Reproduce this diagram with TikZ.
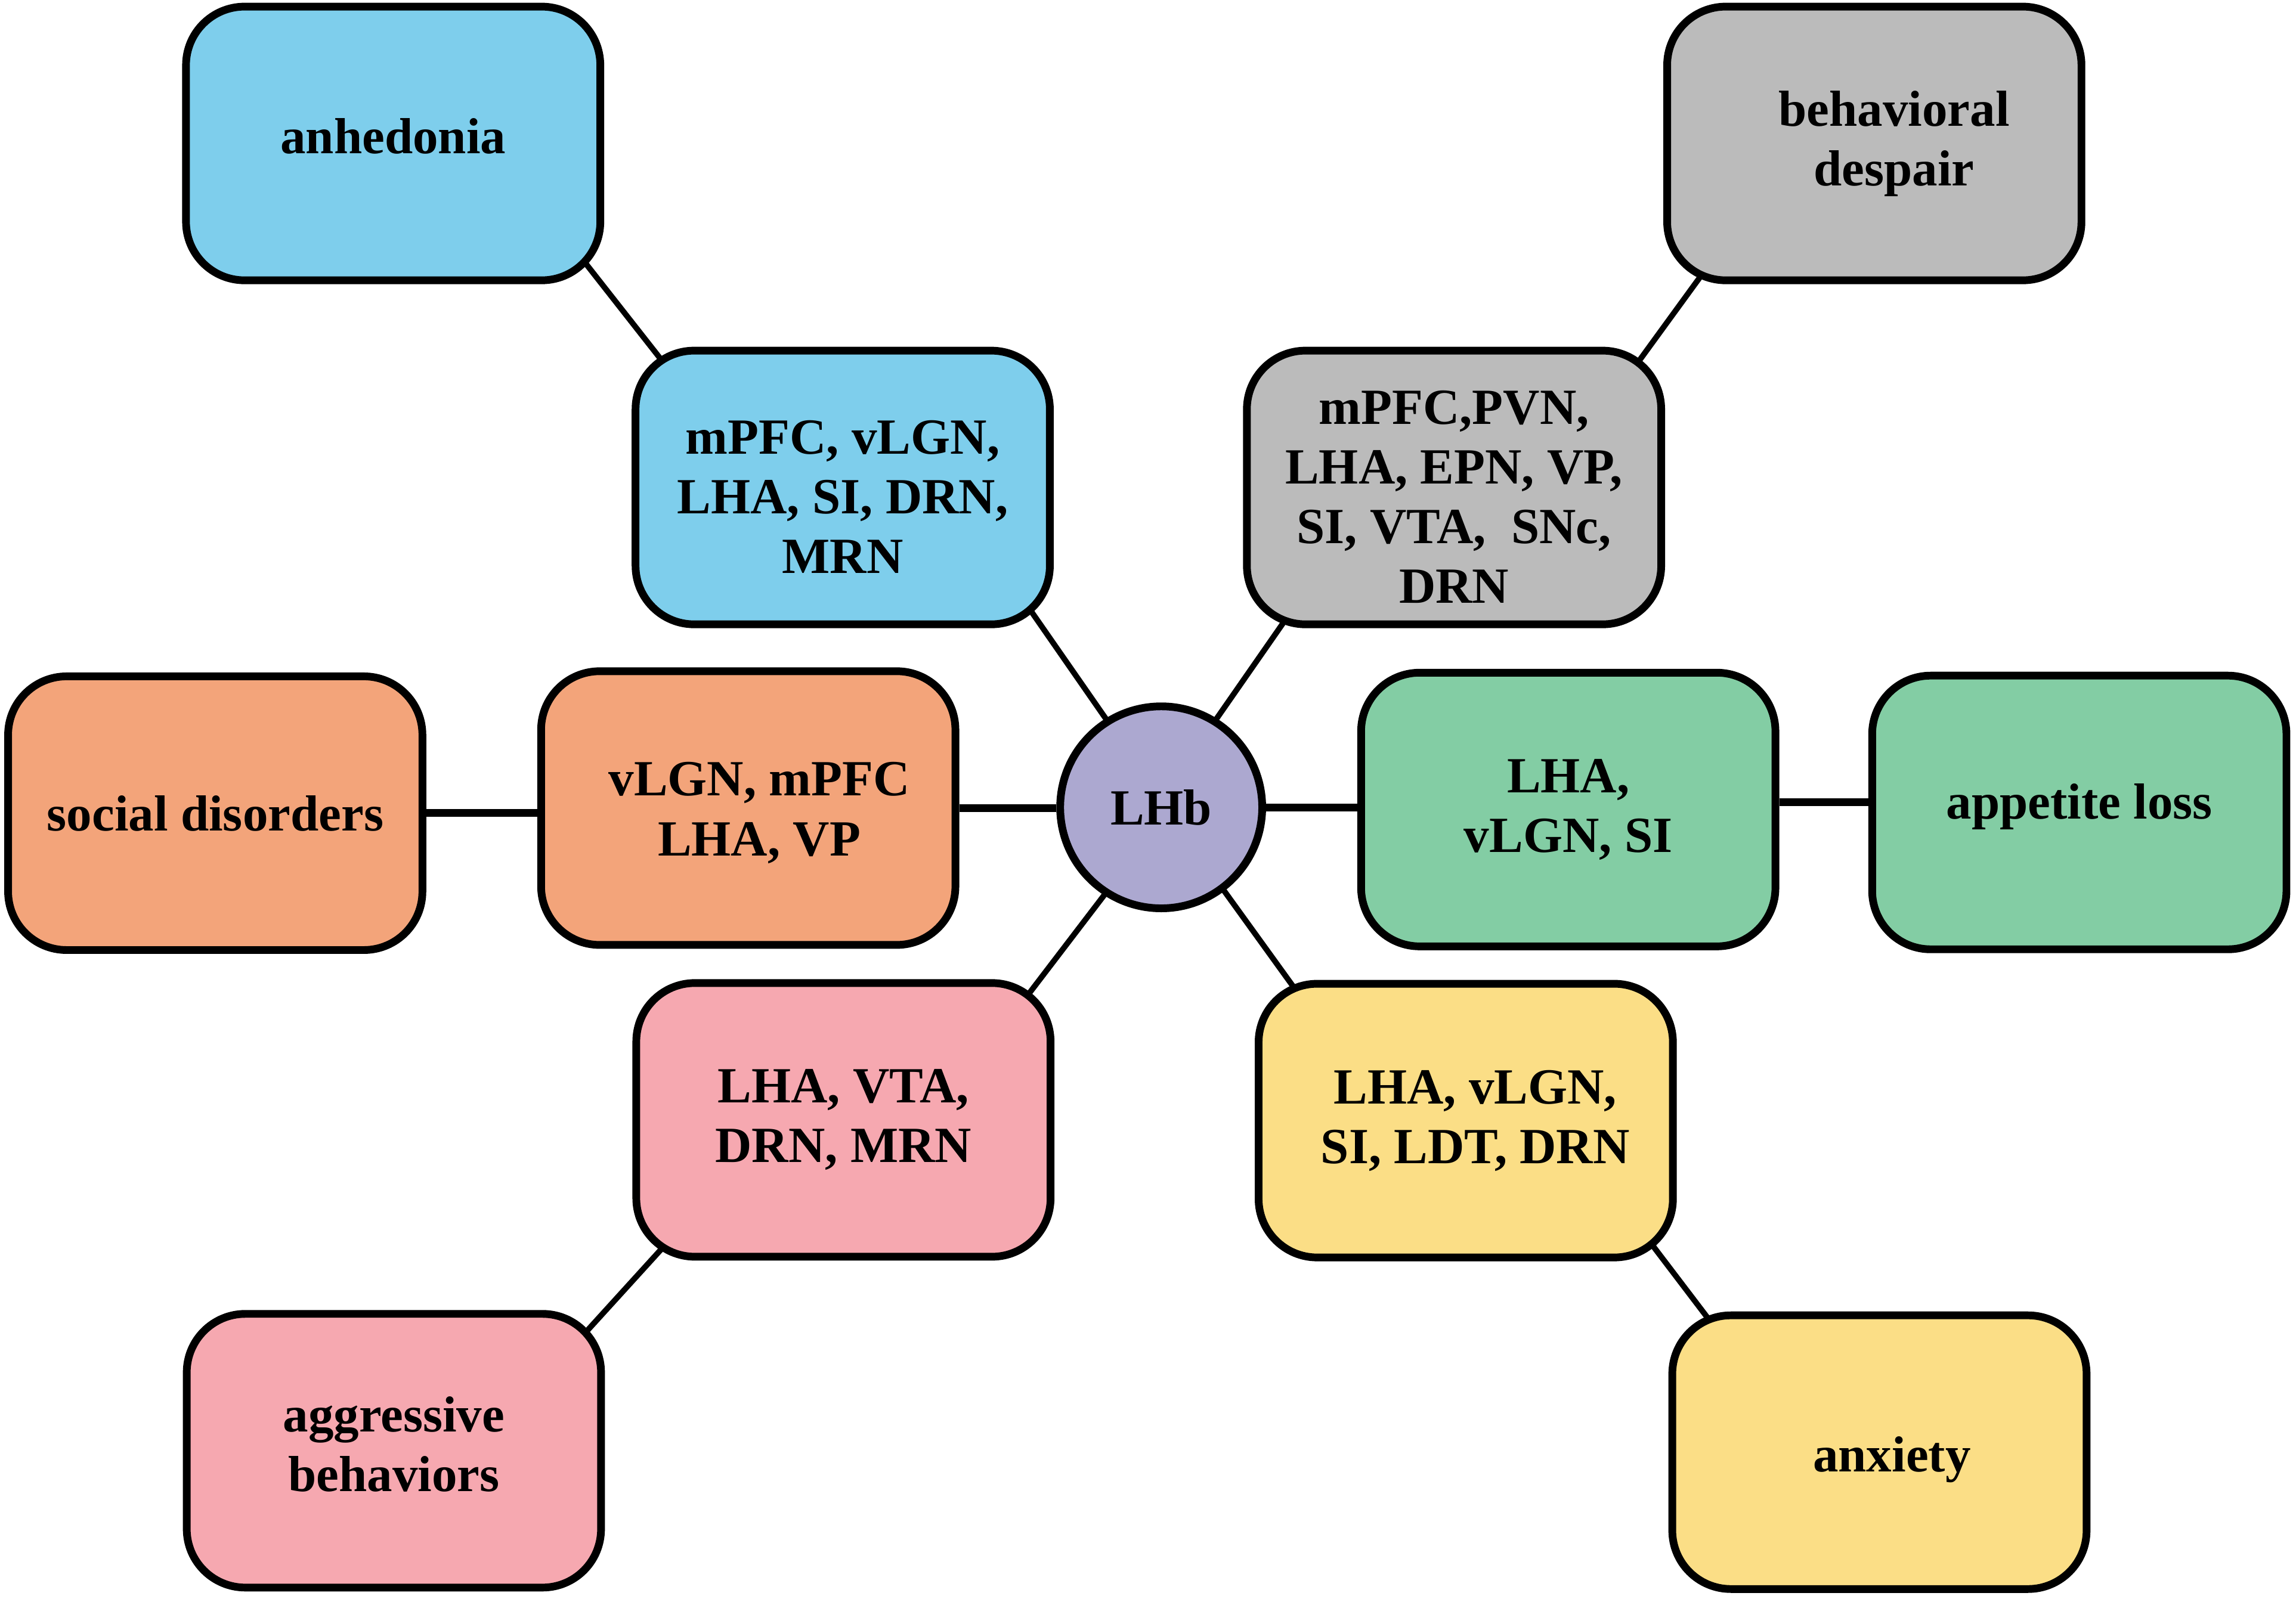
\documentclass[tikz,border=0pt]{standalone}
\usepackage{fontspec}
\setmainfont{Liberation Serif}
\usepackage{tikz}
\usetikzlibrary{calc, backgrounds}
\definecolor{cblue}{HTML}{7ECEEC}
\definecolor{cgrey}{HTML}{BBBBBB}
\definecolor{corange}{HTML}{F3A47A}
\definecolor{cgreen}{HTML}{83CDA4}
\definecolor{cpink}{HTML}{F6A8B0}
\definecolor{cyellow}{HTML}{FBDE86}
\definecolor{cpurple}{HTML}{ACA8D0}
% invisible struts to nudge the text in a box
\newcommand{\pushup}[1]{\rule[-#1]{0pt}{0pt}}
\newcommand{\pushdown}[1]{\rule{0pt}{#1}}
\newcommand{\pushright}[1]{\hspace*{#1}}
\tikzset{box/.style={draw,line width=3pt,rounded corners=0.8cm,minimum width=5.66cm,minimum height=3.74cm,inner sep=0pt,align=center,font=\fontsize{19.7}{23.2}\selectfont\bfseries}}
\tikzset{hub/.style={draw,circle,line width=3pt,minimum size=2.76cm,inner sep=0pt,fill=cpurple,font=\fontsize{19.7}{23.2}\selectfont\bfseries}}
\tikzset{link/.style={line width=2.2pt,shorten <=-4pt,shorten >=-4pt}}
\tikzset{hlink/.style={line width=3pt}}

\begin{document}
\begin{tikzpicture}[x=0.02cm,y=-0.02cm]
    \useasboundingbox (0,0) rectangle (1568,1092);

    % centre
    \node[hub](lhb) at (793,551.5){LHb};

    % regions
    \node[box,fill=cblue](blu) at (575.5,333){\pushdown{20.2pt}mPFC, vLGN,\\LHA, SI, DRN,\\MRN};
    \node[box,fill=cgrey](gry) at (993,333){\pushdown{20.2pt}mPFC,PVN,\\LHA, EPN, VP,\\SI, VTA,\ \ SNc,\\DRN};
    \node[box,fill=corange](org) at (511,552){\pushdown{16.8pt}\pushright{0.3cm}vLGN, mPFC\\\pushright{0.3cm}LHA, VP};
    \node[box,fill=cgreen](grn) at (1071,553){LHA,\\vLGN, SI};
    \node[box,fill=cpink](pnk) at (576,765){LHA, VTA,\\DRN, MRN};
    \node[box,fill=cyellow](ylw) at (1001,765.5){\pushright{0.26cm}LHA, vLGN,\\\pushright{0.26cm}SI, LDT, DRN};

    % behaviours
    \node[box,fill=cblue](anh) at (268.5,98){anhedonia\pushup{5.7pt}};
    \node[box,fill=cgrey](bds) at (1280,98){\pushright{0.54cm}behavioral\\\pushright{0.54cm}despair};
    \node[box,fill=corange](soc) at (147,555.5){social disorders};
    \node[box,fill=cgreen](app) at (1420,555){appetite loss\pushup{8.5pt}};
    \node[box,fill=cpink](agg) at (269,991){aggressive\\behaviors\pushup{5.1pt}};
    \node[box,fill=cyellow](anx) at (1283.5,992){\pushdown{19.3pt}\pushright{0.34cm}anxiety};

    \begin{scope}[on background layer]
        \draw[link] ($(anh.center)+(131.5,82)$) -- ($(blu.center)+(-124.5,-88)$);
        \draw[link] ($(blu.center)+(129,85)$) -- (lhb.122);
        \draw[link] ($(gry.center)+(-117,93)$) -- (lhb.58);
        \draw[link] ($(gry.center)+(126,-86)$) -- ($(bds.center)+(-118.5,90.6)$);
        \draw[link] (lhb.237.6) -- ($(pnk.center)+(126.5,-86)$);
        \draw[link] ($(pnk.center)+(-125,89)$) -- ($(agg.center)+(132,-82)$);
        \draw[link] (lhb.-53.6) -- ($(ylw.center)+(-118.5,-92.5)$);
        \draw[link] ($(ylw.center)+(127,84.5)$) -- ($(anx.center)+(-117.5,-92)$);

        \draw[hlink] (soc.east) -- (soc.east -| org.west);
        \draw[hlink] (org.east) -- (org.east -| lhb.west);
        \draw[hlink] (lhb.east) -- (lhb.east -| grn.west);
        \draw[hlink] ([yshift=0.1cm]grn.east) -- ([yshift=0.1cm]grn.east -| app.west);
    \end{scope}
\end{tikzpicture}
\end{document}
